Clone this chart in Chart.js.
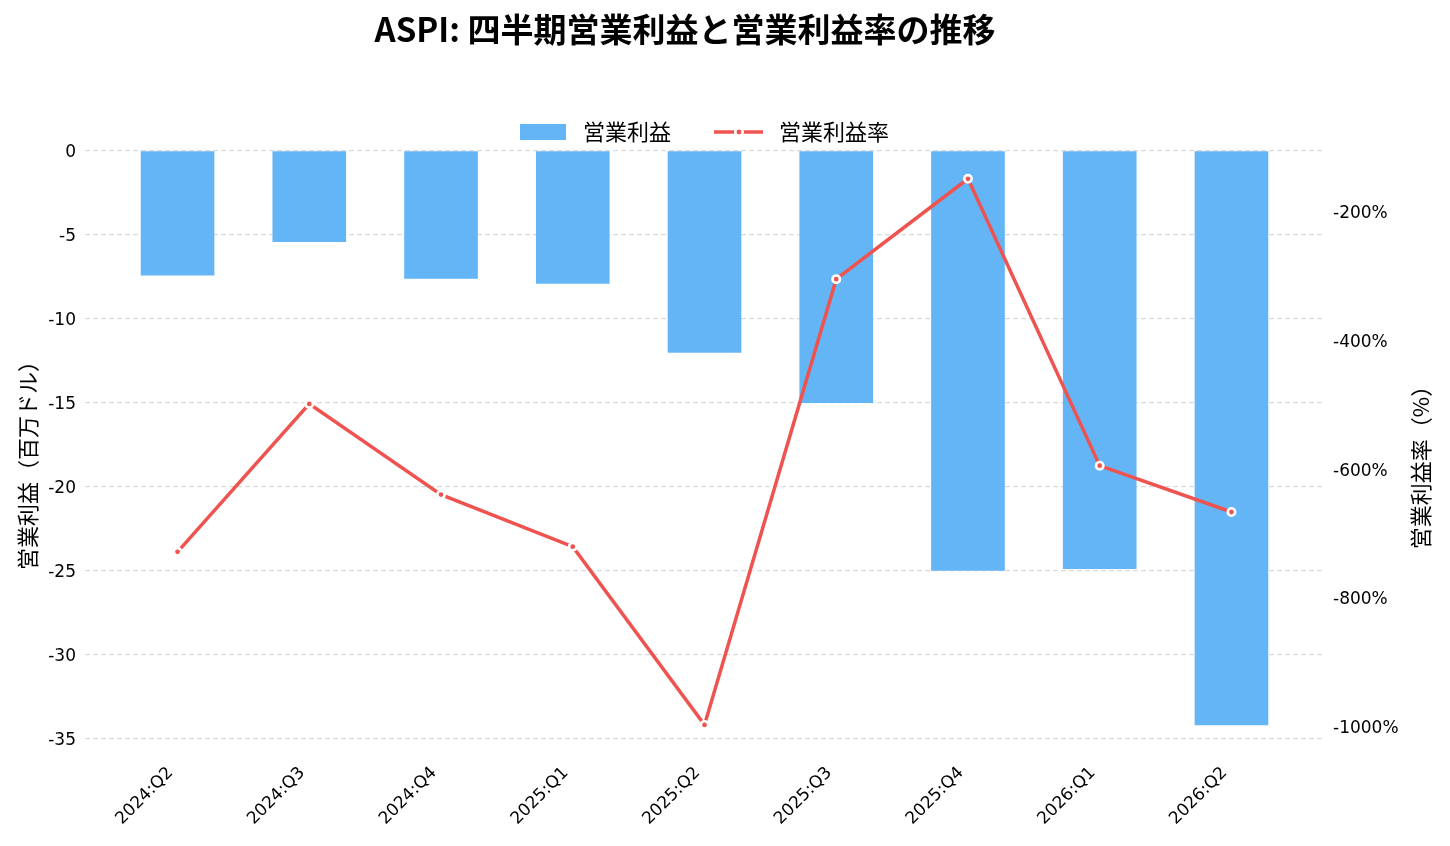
<!DOCTYPE html>
<html lang="ja">
<head>
<meta charset="utf-8">
<title>ASPI 営業利益</title>
<script src="https://cdn.jsdelivr.net/npm/chart.js@4.4.1/dist/chart.umd.min.js"></script>
<style>
  html, body { margin: 0; padding: 0; background: #fff; }
</style>
</head>
<body>
<canvas id="chart" width="1450" height="846"></canvas>
<script>
// data
const quarters = ["2024:Q2", "2024:Q3", "2024:Q4", "2025:Q1", "2025:Q2", "2025:Q3", "2025:Q4", "2026:Q1", "2026:Q2"];
const opIncome = [-7.4, -5.4, -7.6, -7.9, -12.0, -15.0, -25.0, -24.9, -34.2];
const opMargin = [-727, -497, -638, -719, -996, -303, -147, -593, -665];
const incomeTicks = [0, -5, -10, -15, -20, -25, -30, -35];
const marginTicks = [-200, -400, -600, -800, -1000];

const titleText = "ASPI: 四半期営業利益と営業利益率の推移";
const incomeLabel = "営業利益";
const marginLabel = "営業利益率";
const leftTitle = "営業利益（百万ドル）";
const rightTitle = "営業利益率（%）";

const BAR_COLOR = "#64b5f6";
const LINE_COLOR = "#ef5350";
const CJK = "'Noto Sans CJK JP', 'Noto Sans', sans-serif";
const TICK_FONT = { family: "'DejaVu Sans', sans-serif", size: 17 };

// title, legend and axis titles drawn by hand so they sit like the original
const textPlugin = {
  id: "texts",
  afterDraw(chart) {
    const ctx = chart.ctx;
    ctx.save();
    ctx.fillStyle = "#000";
    ctx.textBaseline = "middle";

    ctx.textAlign = "center";
    ctx.font = "bold 33px " + CJK;
    ctx.fillText(titleText, 685, 29);

    // legend
    ctx.font = "22px " + CJK;
    ctx.textAlign = "left";
    ctx.fillStyle = BAR_COLOR;
    ctx.fillRect(520, 124, 46, 16);
    ctx.fillStyle = "#000";
    ctx.fillText(incomeLabel, 583, 132);

    ctx.strokeStyle = LINE_COLOR;
    ctx.lineWidth = 3.5;
    ctx.beginPath();
    ctx.moveTo(714, 132);
    ctx.lineTo(763, 132);
    ctx.stroke();
    ctx.beginPath();
    ctx.arc(739, 132, 3.7, 0, Math.PI * 2);
    ctx.fillStyle = LINE_COLOR;
    ctx.fill();
    ctx.lineWidth = 2.6;
    ctx.strokeStyle = "#fff";
    ctx.stroke();
    ctx.fillStyle = "#000";
    ctx.fillText(marginLabel, 779, 132);

    // axis titles
    ctx.font = "22px " + CJK;
    ctx.textAlign = "center";
    ctx.save();
    ctx.translate(28, 460);
    ctx.rotate(-Math.PI / 2);
    ctx.fillText(leftTitle, 0, 0);
    ctx.restore();
    ctx.save();
    ctx.translate(1421, 462);
    ctx.rotate(-Math.PI / 2);
    ctx.fillText(rightTitle, 0, 0);
    ctx.restore();

    ctx.restore();
  }
};

new Chart(document.getElementById("chart"), {
  data: {
    datasets: [
      {
        type: "line",
        label: marginLabel,
        data: opMargin.map((v, i) => ({ x: i, y: v })),
        yAxisID: "y1",
        borderColor: LINE_COLOR,
        borderWidth: 3.5,
        pointRadius: 3.7,
        pointBackgroundColor: LINE_COLOR,
        pointBorderColor: "#fff",
        pointBorderWidth: 2.6,
        tension: 0,
        order: 1,
      },
      {
        type: "bar",
        label: incomeLabel,
        data: opIncome.map((v, i) => ({ x: i, y: v })),
        yAxisID: "y",
        backgroundColor: BAR_COLOR,
        barThickness: 73,
        order: 2,
      },
    ],
  },
  options: {
    responsive: false,
    animation: false,
    layout: { padding: { top: 151, left: 0, right: 0, bottom: 0 } },
    plugins: {
      legend: { display: false },
      title: { display: false },
      tooltip: { enabled: false },
    },
    scales: {
      x: {
        type: "linear",
        offset: false,
        min: -0.7025,
        max: 8.7025,
        grid: { display: false, offset: false },
        border: { display: false },
        afterBuildTicks: (s) => {
          s.ticks = quarters.map((q, i) => ({ value: i }));
        },
        afterFit: (s) => {
          s.height = 91;
        },
        ticks: {
          autoSkip: false,
          minRotation: 45,
          maxRotation: 45,
          padding: 0,
          labelOffset: -7,
          color: "#000",
          font: TICK_FONT,
          callback: (v) => quarters[v],
        },
      },
      y: {
        position: "left",
        min: -36.0,
        max: 0,
        afterBuildTicks: (s) => {
          s.ticks = incomeTicks.map((v) => ({ value: v }));
        },
        afterFit: (s) => {
          s.width = 85;
        },
        grid: { color: "#dadada", lineWidth: 1.3, drawTicks: false },
        border: { display: false, dash: [5, 3] },
        ticks: { padding: 9, labelOffset: 2, color: "#000", font: TICK_FONT },
      },
      y1: {
        position: "right",
        min: -1042.8,
        max: -103.8,
        afterBuildTicks: (s) => {
          s.ticks = marginTicks.map((v) => ({ value: v }));
        },
        afterFit: (s) => {
          s.width = 126;
        },
        grid: { display: false, drawTicks: false },
        border: { display: false },
        ticks: {
          padding: 9,
          labelOffset: 1,
          color: "#000",
          font: TICK_FONT,
          callback: (v) => v + "%",
        },
      },
    },
  },
  plugins: [textPlugin],
});
</script>
</body>
</html>
